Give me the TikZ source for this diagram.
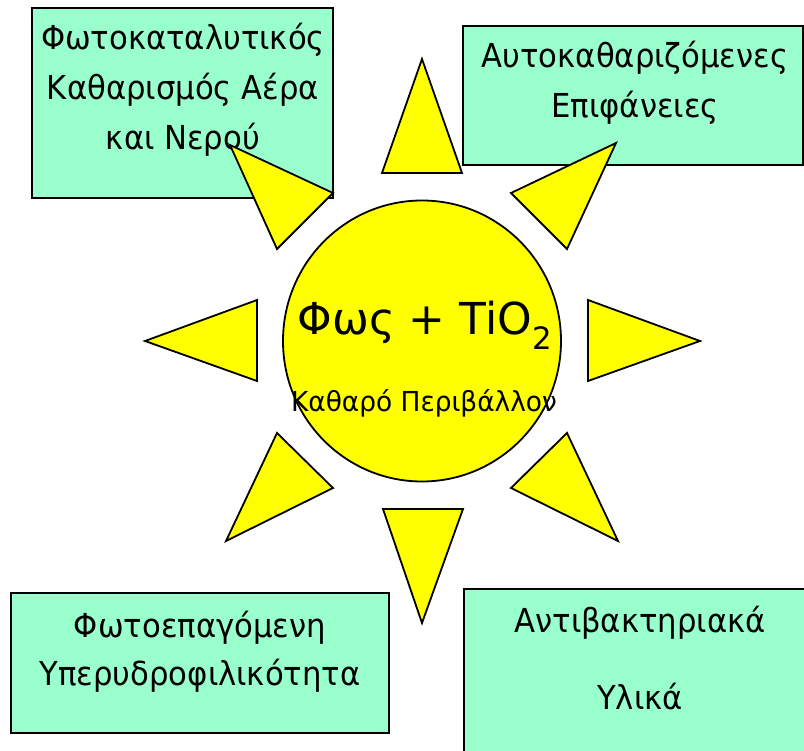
\documentclass[tikz,border=0pt]{standalone}
\usepackage{fontspec}
\setmainfont{DejaVu Sans}
\newfontfamily\boxfont[FakeStretch=0.93]{DejaVu Sans}
\newfontfamily\subfont[FakeStretch=0.96]{DejaVu Sans}
\definecolor{mint}{HTML}{99FFCC}
\definecolor{sunyellow}{HTML}{FFFF00}
\tikzset{
  box/.style={draw=black, line width=1.8pt, fill=mint},
  ray/.style={draw=black, line width=1.8pt, fill=sunyellow, line join=miter},
  boxtext/.style={anchor=base, inner sep=0pt, font=\boxfont\fontsize{33}{40}\selectfont},
}
\begin{document}
\begin{tikzpicture}[x=1pt,y=-1pt]
\useasboundingbox (0,0) rectangle (804,751);
\fill[white] (0,0) rectangle (804,751);
% boxes
\draw[box] (32,8) rectangle (333,198);
\draw[box] (463,26) rectangle (803,165);
\draw[box] (11,593) rectangle (389,733);
\draw[box] (464,589) rectangle (830,780);
% box texts
\node[boxtext] (b1a) at (183,50) {Φωτοκαταλυτικός};
\node[boxtext] (b1b) at (183,100) {Καθαρισμός Αέρα};
\node[boxtext] (b1c) at (183,150) {και Νερού};
\node[boxtext] (b2a) at (635,68) {Αυτοκαθαριζόμενες};
\node[boxtext] (b2b) at (635,118) {Επιφάνειες};
\node[boxtext] (b3a) at (200,637) {Φωτοεπαγόμενη};
\node[boxtext] (b3b) at (200,685) {Υπερυδροφιλικότητα};
\node[boxtext] (b4a) at (640,632) {Αντιβακτηριακά};
\node[boxtext] (b4b) at (640,709) {Υλικά};
% rays
\draw[ray] (382,173) -- (422,59) -- (462,173) -- cycle;
\draw[ray] (383,509) -- (422,623) -- (463,509) -- cycle;
\draw[ray] (257,300) -- (145,341) -- (257,381) -- cycle;
\draw[ray] (588,300) -- (700,341) -- (588,381) -- cycle;
\draw[ray] (230,145) -- (333,193) -- (277,249) -- cycle;
\draw[ray] (616,143) -- (511,193) -- (567,249) -- cycle;
\draw[ray] (277,433) -- (333,488) -- (226,541) -- cycle;
\draw[ray] (567,433) -- (511,488) -- (618,541) -- cycle;
% sun
\draw[ray] (422,341) circle[x radius=139, y radius=140.5];
\node[anchor=base, inner sep=0pt, font=\fontsize{44}{50}\selectfont] (main) at (425,335) {Φως + TiO\textsubscript{2}};
\node[anchor=base, inner sep=0pt, font=\subfont\fontsize{27.5}{32}\selectfont] (sub) at (424,412) {Καθαρό Περιβάλλον};
\end{tikzpicture}
\end{document}
